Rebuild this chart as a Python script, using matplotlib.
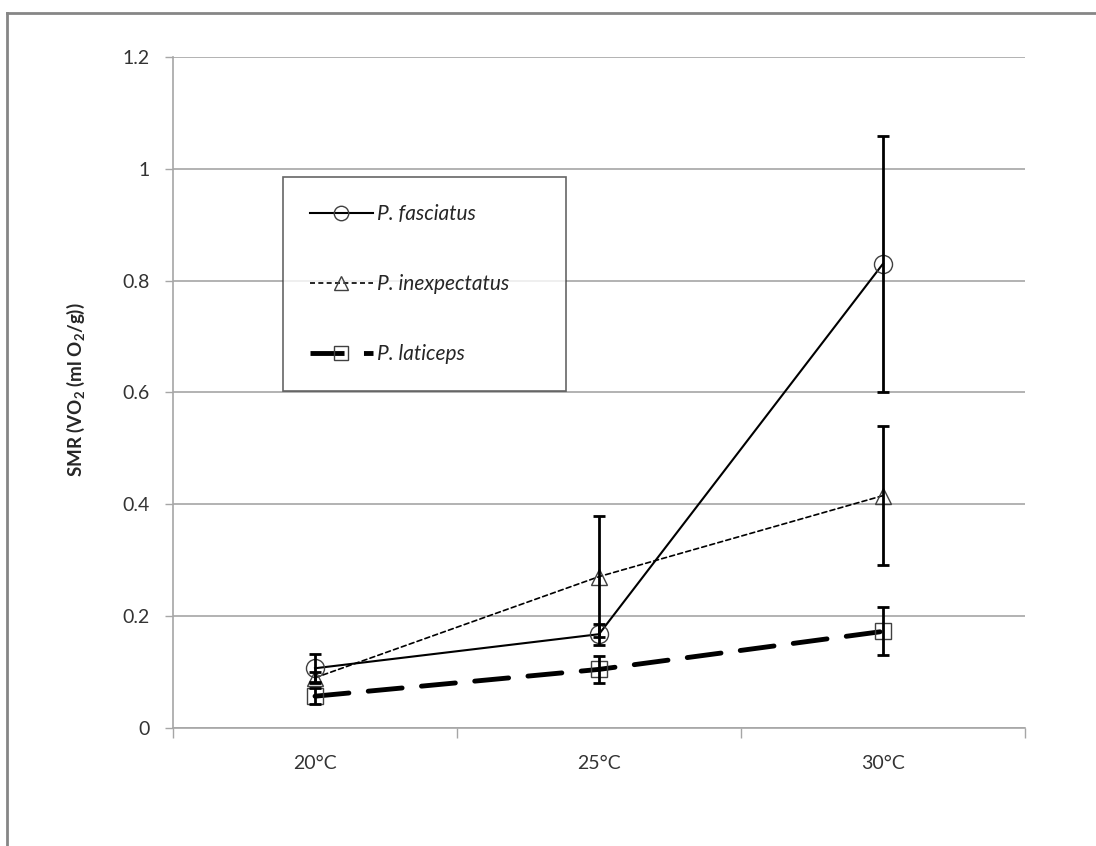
import matplotlib.pyplot as plt
from matplotlib.lines import Line2D
import numpy as np

plt.rcParams["font.family"] = ["Lato", "DejaVu Sans"]
plt.rcParams["mathtext.default"] = "regular"

temps = ["20°C", "25°C", "30°C"]
species = ["P. fasciatus", "P. inexpectatus", "P. laticeps"]

fasciatus = [0.106, 0.167, 0.830]
fasciatus_err = [0.025, 0.019, 0.229]
inexpectatus = [0.089, 0.270, 0.415]
inexpectatus_err = [0.010, 0.108, 0.125]
laticeps = [0.056, 0.104, 0.172]
laticeps_err = [0.014, 0.024, 0.043]

fig = plt.figure(figsize=(10.96, 8.46), dpi=100)
ax = fig.add_axes([173 / 1096, 118.5 / 846, 852 / 1096, 670.5 / 846])

x = np.arange(len(temps))
styles = [
    dict(ls="-", lw=1.5, marker="o", ms=13),
    dict(ls=(0, (3, 2)), lw=1.2, marker="^", ms=12),
    dict(ls=(0, (7, 4)), lw=3.5, marker="s", ms=12),
]
series = [(fasciatus, fasciatus_err), (inexpectatus, inexpectatus_err),
          (laticeps, laticeps_err)]

handles = []
for (vals, errs), st, name in zip(series, styles, species):
    ax.plot(x, vals, color="black", ls=st["ls"], lw=st["lw"], zorder=3,
            dash_capstyle="round")
    ax.plot(x, vals, ls="none", marker=st["marker"], ms=st["ms"],
            mfc="none", mec="#404040", mew=1.0, zorder=4)
    ax.errorbar(x, vals, yerr=errs, fmt="none", ecolor="black",
                elinewidth=2, capsize=4, capthick=2, zorder=5)
    handles.append(Line2D([], [], color="black", ls=st["ls"], lw=st["lw"],
                          marker=st["marker"], ms=st["ms"] * 0.8, mfc="none",
                          mec="#404040", mew=1.0, label=name))

ax.set_xlim(-0.5, 2.5)
ax.set_ylim(0, 1.2)
ax.set_yticks(np.arange(0, 1.21, 0.2))
ax.set_yticklabels(["0", "0.2", "0.4", "0.6", "0.8", "1", "1.2"])
ax.yaxis.grid(True, color="#a6a6a6", lw=1.2)
ax.set_axisbelow(True)

ax.set_xticks([-0.5, 0.5, 1.5, 2.5])
ax.set_xticklabels([])
ax.set_xticks(x, minor=True)
ax.set_xticklabels(temps, minor=True)
ax.tick_params(axis="x", which="major", length=7, color="#a6a6a6", width=1)
ax.tick_params(axis="x", which="minor", length=0, pad=20, labelsize=14,
               labelcolor="#333333")
ax.tick_params(axis="y", length=6, color="#a6a6a6", width=1, pad=11,
               labelsize=14, labelcolor="#333333")

for side in ["top", "right"]:
    ax.spines[side].set_visible(False)
for side in ["left", "bottom"]:
    ax.spines[side].set_color("#a6a6a6")
    ax.spines[side].set_linewidth(1.2)

fig.text(76 / 1096, 1 - 390 / 846, "SMR (VO$_2$ (ml O$_2$/g))", rotation=90,
         ha="center", va="center", fontsize=13.5, fontweight="bold",
         color="#262626")

leg = fig.legend(handles=handles, loc="upper left",
                 bbox_to_anchor=(283 / 1096, 1 - 177 / 846, 283 / 1096, 0.0),
                 mode="expand", frameon=True, fancybox=False,
                 handlelength=3.0, handletextpad=0.2, labelspacing=2.4,
                 borderpad=1.3, borderaxespad=0,
                 prop=dict(family=["Lato", "DejaVu Sans"], style="italic",
                           size=15))
leg.get_frame().set_edgecolor("#404040")
leg.get_frame().set_linewidth(1.2)
for t in leg.get_texts():
    t.set_color("#262626")

# outer chart frame (top and left edges)
fig.add_artist(Line2D([7 / 1096, 1.0], [1 - 13 / 846, 1 - 13 / 846],
                      color="#868686", lw=2, transform=fig.transFigure))
fig.add_artist(Line2D([7 / 1096, 7 / 1096], [0.0, 1 - 13 / 846],
                      color="#868686", lw=2, transform=fig.transFigure))

fig.savefig("out.png", dpi=100)
